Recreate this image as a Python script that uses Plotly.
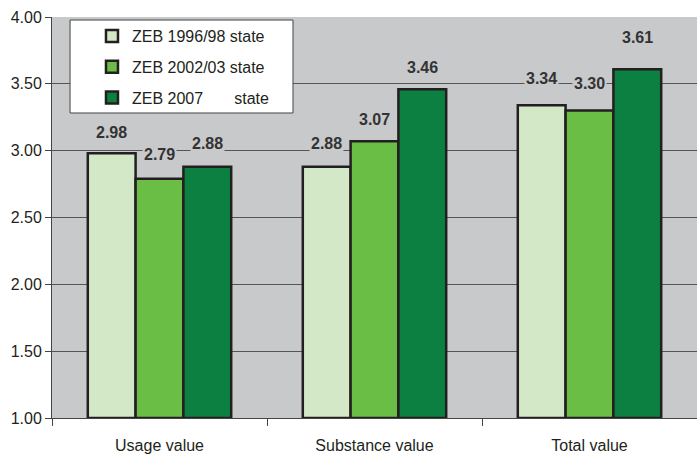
import plotly.graph_objects as go

categories = ["Usage value", "Substance value", "Total value"]
series_names = ["ZEB 1996/98 state", "ZEB 2002/03 state", "ZEB 2007\u00a0\u00a0\u00a0\u00a0\u00a0\u00a0 state"]
zeb_1996 = [2.98, 2.88, 3.34]
zeb_2002 = [2.79, 3.07, 3.30]
zeb_2007 = [2.88, 3.46, 3.61]
y_ticks = [1.0, 1.5, 2.0, 2.5, 3.0, 3.5, 4.0]

series_values = [zeb_1996, zeb_2002, zeb_2007]

# styling
colors = ["#D3E8C6", "#6ABD45", "#0B8040"]
outline = "#231F20"
plot_bg = "#C8C9CB"
label_shift = [[21, 23, 27], [24, 22, 27], [23, 22, 32]]  # px above bar top, per series/category
font_family = "Liberation Sans, Arial, sans-serif"

fig = go.Figure()
for i, (name, vals) in enumerate(zip(series_names, series_values)):
    fig.add_trace(go.Bar(
        x=categories, y=[v - 1.0 for v in vals], base=1.0, name=name,
        marker=dict(color=colors[i], line=dict(color=outline, width=2.5)),
        legendgroup=f"g{i}", hoverinfo="skip",
    ))
    for j, v in enumerate(vals):
        fig.add_annotation(
            x=categories[j], y=v, xref="x", yref="y",
            xshift=(i - 1) * 48, yshift=label_shift[i][j],
            text=f"<b>{v:.2f}</b>", showarrow=False,
            font=dict(family=font_family, size=16, color="#333333"),
            bgcolor=plot_bg, borderpad=1,
        )

fig.add_shape(type="rect", xref="paper", yref="paper",
              x0=0.028, x1=0.3736, y0=0.7606, y1=0.9925,
              fillcolor="white", line=dict(color="#444444", width=1), layer="above")

fig.update_layout(
    width=697, height=457,
    margin=dict(l=52, r=0, t=17, b=39, autoexpand=False),
    paper_bgcolor="white", plot_bgcolor=plot_bg,
    barmode="group", bargap=0.333, bargroupgap=0,
    font=dict(family=font_family, size=16, color="#231F20"),
    showlegend=True,
    legend=dict(
        x=0.062, y=0.995, xanchor="left", yanchor="top",
        bgcolor="rgba(0,0,0,0)", borderwidth=0,
        font=dict(family=font_family, size=16, color="#231F20"),
        traceorder="grouped", tracegroupgap=7, itemwidth=30,
    ),
    xaxis=dict(
        showline=True, linecolor="#444444", linewidth=1,
        ticks="outside", tickson="boundaries", ticklen=7, tickcolor="#444444",
        showgrid=False, ticklabelstandoff=13, automargin=False,
        tickfont=dict(size=16),
    ),
    yaxis=dict(
        range=[1, 4], tickvals=y_ticks, tickformat=".2f",
        showline=True, linecolor="#444444", linewidth=1,
        ticks="outside", ticklen=6, tickcolor="#444444",
        showgrid=True, gridcolor="#555555", gridwidth=1,
        tickfont=dict(size=16), zeroline=False, automargin=False,
    ),
)

fig.write_html("out.html", config={"displayModeBar": False},
               post_script="document.body.style.margin='0';")
